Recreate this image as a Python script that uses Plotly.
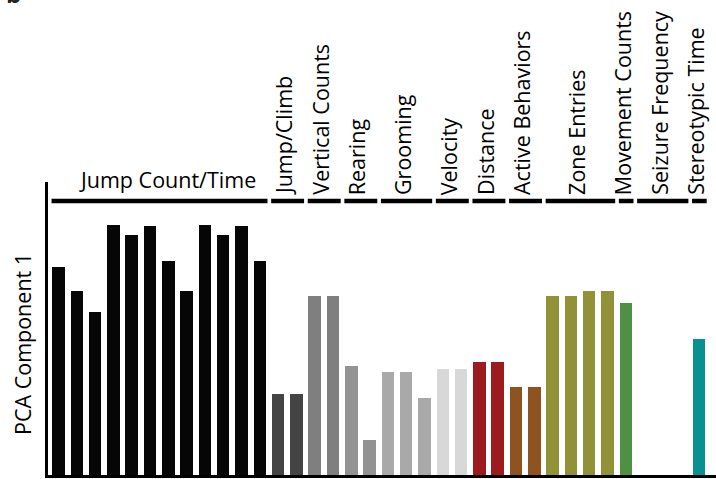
import plotly.graph_objects as go

# ---------------- data ----------------
groups = ["Jump Count/Time", "Jump/Climb", "Vertical Counts", "Rearing", "Grooming",
          "Velocity", "Distance", "Active Behaviors", "Zone Entries",
          "Movement Counts", "Seizure Frequency", "Stereotypic Time"]

jump_count_time = [0.833, 0.735, 0.653, 1.0, 0.961, 0.995, 0.857, 0.735, 1.0, 0.961, 0.995, 0.857]
jump_climb = [0.323, 0.323]
vertical_counts = [0.715, 0.715]
rearing = [0.437, 0.141]
grooming = [0.411, 0.411, 0.309]
velocity = [0.423, 0.423]
distance = [0.453, 0.453]
active_behaviors = [0.351, 0.351]
zone_entries = [0.717, 0.716, 0.736, 0.736]
movement_counts = [0.689]
seizure_frequency = [0.0, 0.0, 0.0]
stereotypic_time = [0.545]

series = [jump_count_time, jump_climb, vertical_counts, rearing, grooming, velocity,
          distance, active_behaviors, zone_entries, movement_counts,
          seizure_frequency, stereotypic_time]

# ---------------- styles ----------------
group_colors = ["#060606", "#444444", "#7f7f7f", "#939393", "#a9a9a9", "#d8d8d8",
                "#9b1b1f", "#8f5322", "#919137", "#4f9042", "#888888", "#099090"]
FONT = "Open Sans"
FS = 21.5

xs, ys, cols = [], [], []
spans = []
i = 0
for vals, c in zip(series, group_colors):
    start = i
    for v in vals:
        xs.append(i)
        ys.append(v)
        cols.append(c)
        i += 1
    spans.append((start, i - 1))
n_slots = i

fig = go.Figure(go.Bar(x=xs, y=ys, marker=dict(color=cols, line=dict(width=0)),
                       width=0.68, showlegend=False))

W, H = 716, 479
ml, mr, mt, mb = 48, 0, 182, 4
plot_h = H - mt - mb
plot_w = W - ml - mr

def py(pix):
    return (H - mb - pix) / plot_h

def px(pix):
    return (pix - ml) / plot_w

shapes = []
annotations = []
line_y = py(201)
for gi, (g, (s, e)) in enumerate(zip(groups, spans)):
    shapes.append(dict(type="line", xref="x", yref="paper", x0=s - 0.38, x1=e + 0.42,
                       y0=line_y, y1=line_y, line=dict(color="black", width=4.5)))
    center = (s + e) / 2
    if gi == 0:
        annotations.append(dict(text=g, x=center, xref="x", y=py(196), yref="paper",
                                xanchor="center", yanchor="bottom", showarrow=False,
                                xshift=8, font=dict(family=FONT, size=FS, color="black")))
    else:
        annotations.append(dict(text=g, x=center - 0.2, xref="x", y=py(197), yref="paper",
                                xanchor="center", yanchor="bottom", textangle=-90,
                                showarrow=False,
                                font=dict(family=FONT, size=FS, color="black")))

annotations.append(dict(text="PCA Component 1", x=px(22), xref="paper", y=py(344), yref="paper",
                        xanchor="center", yanchor="middle", textangle=-90, showarrow=False,
                        font=dict(family=FONT, size=FS, color="black")))
annotations.append(dict(text="<b>b</b>", x=px(4), xref="paper", y=py(12), yref="paper",
                        xanchor="left", yanchor="bottom", showarrow=False,
                        font=dict(family=FONT, size=24, color="#222222")))

y_top = plot_h / 250.0
fig.update_layout(
    width=W, height=H,
    margin=dict(l=ml, r=mr, t=mt, b=mb, pad=0),
    paper_bgcolor="white", plot_bgcolor="white",
    bargap=0,
    xaxis=dict(range=[(ml - 58.5) / 18.3, (W - mr - 58.5) / 18.3], showgrid=False,
               zeroline=False, showticklabels=False, ticks="",
               showline=True, linecolor="black", linewidth=3),
    yaxis=dict(range=[0, y_top], showgrid=False, zeroline=False, showticklabels=False,
               ticks="", showline=True, linecolor="black", linewidth=3),
    shapes=shapes,
    annotations=annotations,
)

fig.write_html("out.html")
